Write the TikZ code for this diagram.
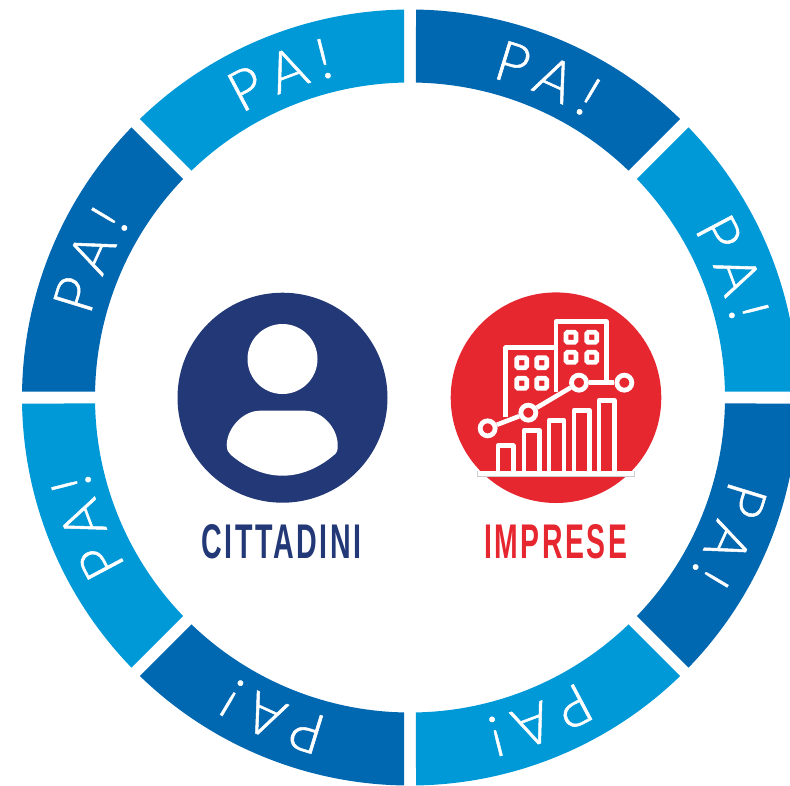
\documentclass[tikz,border=0pt]{standalone}
\usepackage{graphicx}
\usepackage{fontspec}
\setmainfont{Liberation Sans}
\newfontfamily\pafont[FakeBold=0.9]{Lato Light}
\newfontfamily\capfont[LetterSpace=9]{Liberation Sans Bold}
\definecolor{ringdark}{RGB}{0,103,177}
\definecolor{ringlight}{RGB}{0,153,216}
\definecolor{navy}{RGB}{35,56,118}
\definecolor{impred}{RGB}{230,39,48}
\tikzset{
  paletter/.style={text=white,anchor=base,inner sep=0pt,font=\pafont\fontsize{56}{56}\selectfont},
  iconline/.style={draw=white,line width=4.6pt,line join=round,line cap=butt},
  winbox/.style={draw=white,line width=4.8pt,rounded corners=1.5pt,minimum size=10pt,inner sep=0pt,fill=none},
  dot/.style={circle,draw=white,line width=4.8pt,minimum size=15pt,inner sep=0pt,fill=impred},
  caption/.style={inner sep=0pt,font=\capfont}
}
\begin{document}
\begin{tikzpicture}[x=1pt,y=-1pt]
\useasboundingbox (0,0) rectangle (790,785);
\clip (0,0) rectangle (790,785);
\begin{scope}[shift={(410,397.5)},x=1pt,y=1pt]
\foreach \i/\col in {0/ringdark,1/ringlight,2/ringdark,3/ringlight,4/ringdark,5/ringlight,6/ringdark,7/ringlight}{
  \pgfmathsetmacro{\st}{90-45*\i-0.886}
  \pgfmathsetmacro{\en}{90-45*(\i+1)+0.886}
  \pgfmathsetmacro{\sti}{90-45*\i-1.09}
  \pgfmathsetmacro{\eni}{90-45*(\i+1)+1.09}
  \fill[\col] (\st:388pt) arc[start angle=\st,end angle=\en,radius=388pt]
     -- (\eni:315pt) arc[start angle=\eni,end angle=\sti,radius=315pt] -- cycle;
  \pgfmathsetmacro{\mid}{45*\i+22.5}
  \foreach \ch/\off/\k in {P/-5.4/a,A/2.0/b,!/8.2/c}{
    \pgfmathsetmacro{\cl}{\mid+\off}
    \node[paletter,rotate=-\cl] (pa\i\k) at ({90-\cl}:330pt) {\ch};
  }
}
\end{scope}
% citizen
\node[circle,fill=navy,minimum size=210pt,inner sep=0pt] (citcircle) at (282.5,397.7) {};
\node[circle,fill=white,minimum size=70pt,inner sep=0pt] (head) at (282.5,359) {};
\fill[white] (260,410.7) -- (305,410.7)
  .. controls (322,410.7) and (337.7,428) .. (337.7,445)
  .. controls (338,450) and (337,453) .. (334,455)
  .. controls (320,467) and (302,475.7) .. (282.5,475.7)
  .. controls (263,475.7) and (245,467) .. (231,455)
  .. controls (228,453) and (227,450) .. (226.7,445)
  .. controls (227,428) and (243,410.7) .. (260,410.7) -- cycle;
\node[caption,text=navy] (cittadini) at (281.7,542) {\resizebox{160pt}{34pt}{CITTADINI}};
% enterprises
\node[circle,fill=impred,minimum size=210.6pt,inner sep=0pt] (impcircle) at (556,397.7) {};
\node[caption,text=impred] (imprese) at (555.5,542) {\resizebox{143pt}{34pt}{IMPRESE}};
\begin{scope}[shift={(440,280)},x=0.33333pt,y=-0.33333pt]
  % baseline
  \fill[white] (113,574) rectangle (583,588);
  \draw[black!20,line width=0.5pt] (113,574) -- (113,588) -- (583,588) -- (583,574);
  % buildings
  \draw[iconline] (197,412) -- (197,203) -- (345,203);
  \draw[iconline] (348,335) -- (348,125) -- (500,125) -- (500,305);
  \foreach \n/\px/\py in {a/245/248,b/305/248,c/245/310,d/305/310,e/393/172,f/455/172,g/393/232,h/455/232}{
    \node[winbox] (win\n) at (\px,\py) {};
  }
  % bars
  \foreach \n/\l/\r/\t in {a/174/220/497,b/252/298/451,c/327/372/421,d/402/448/391,e/477/523/361}{
    \draw[iconline] (\l,576) -- (\l,\t) -- (\r,\t) -- (\r,576);
  }
  % trend
  \node[dot] (t1) at (143,445) {};
  \node[dot] (t2) at (265,398) {};
  \node[dot] (t3) at (417,308) {};
  \node[dot] (t4) at (553,308) {};
  \draw[iconline] (t1) -- (t2);
  \draw[iconline] (t2) -- (t3);
  \draw[iconline] (t3) -- (t4);
\end{scope}
\end{tikzpicture}
\end{document}
